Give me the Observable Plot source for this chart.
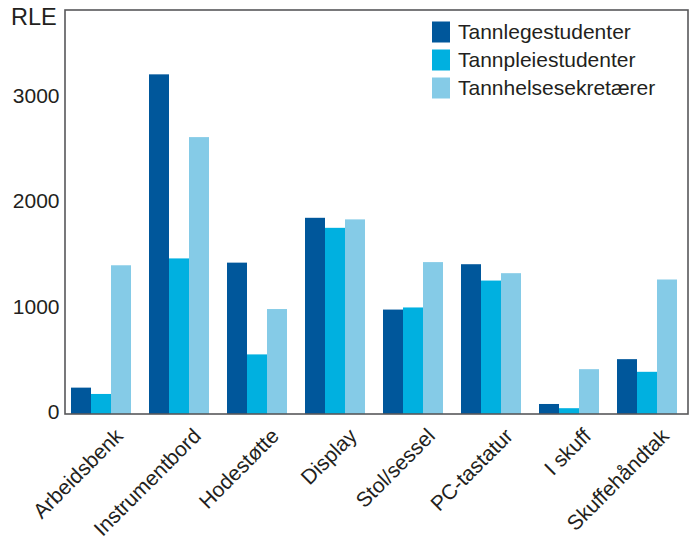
<!DOCTYPE html>
<html>
<head>
<meta charset="utf-8">
<script src="https://cdn.jsdelivr.net/npm/d3@7"></script>
<script src="https://cdn.jsdelivr.net/npm/@observablehq/plot@0.6"></script>
<style>
  html, body { margin: 0; padding: 0; background: #fff; }
  #chart { width: 700px; height: 544px; }
  svg { font-family: "Liberation Sans", Arial, sans-serif; }
</style>
</head>
<body>
<div id="chart"></div>
<script>
const categories = ["Arbeidsbenk", "Instrumentbord", "Hodestøtte", "Display", "Stol/sessel", "PC-tastatur", "I skuff", "Skuffehåndtak"];
const series = ["Tannlegestudenter", "Tannpleiestudenter", "Tannhelsesekretærer"];
const tannlegestudenter = [250, 3220, 1435, 1860, 990, 1420, 95, 520];
const tannpleiestudenter = [190, 1475, 565, 1765, 1010, 1265, 55, 400];
const tannhelsesekretaerer = [1410, 2625, 995, 1845, 1440, 1335, 425, 1275];
const colors = ["#00579b", "#00b0e0", "#85cbe7"];
const yTicks = [0, 1000, 2000, 3000];
const yLabel = "RLE";

const values = [tannlegestudenter, tannpleiestudenter, tannhelsesekretaerer];
const data = [];
categories.forEach((c, i) => {
  series.forEach((s, j) => data.push({category: c, series: s, value: values[j][i]}));
});

const W = 700, H = 544;
const mL = 65, mT = 10, mR = 12, mB = 130;

const plot = Plot.plot({
  width: W,
  height: H,
  marginLeft: mL,
  marginTop: mT,
  marginRight: mR,
  marginBottom: mB,
  style: {fontFamily: "Liberation Sans, Arial, sans-serif", color: "#231f20", background: "#fff"},
  fx: {domain: categories, paddingInner: 0.2, paddingOuter: 0.09, align: 0.36, label: null},
  x: {domain: series, padding: 0, axis: null},
  y: {domain: [0, 3830], label: null},
  color: {domain: series, range: colors},
  marks: [
    Plot.barY(data, {fx: "category", x: "series", y: "value", fill: "series", inset: 0}),
    Plot.axisY({ticks: yTicks, tickSize: 0, tickPadding: 11, fontSize: 21, label: null, dy: -2, tickFormat: d => String(d)}),
    Plot.axisFx({anchor: "bottom", tickRotate: -45, tickSize: 0, tickPadding: 10, fontSize: 21, label: null, dx: 18, dy: 8})
  ]
});
document.getElementById("chart").appendChild(plot);

const svg = d3.select(plot);
// frame
svg.append("rect")
  .attr("x", mL).attr("y", mT)
  .attr("width", W - mL - mR).attr("height", H - mT - mB)
  .attr("fill", "none").attr("stroke", "#58585a").attr("stroke-width", 1.6);
// y label
svg.append("text")
  .attr("x", 11).attr("y", 25)
  .attr("text-anchor", "start")
  .attr("font-size", 23.5).attr("fill", "#231f20")
  .text(yLabel);
// legend
const lg = svg.append("g");
series.forEach((s, i) => {
  const y = 32 + i * 28;
  lg.append("rect").attr("x", 432).attr("y", y - 10.5).attr("width", 18).attr("height", 21).attr("fill", colors[i]);
  lg.append("text").attr("x", 458).attr("y", y).attr("dy", "0.33em")
    .attr("text-anchor", "start")
    .attr("font-size", 21).attr("fill", "#231f20").text(s);
});
</script>
</body>
</html>
